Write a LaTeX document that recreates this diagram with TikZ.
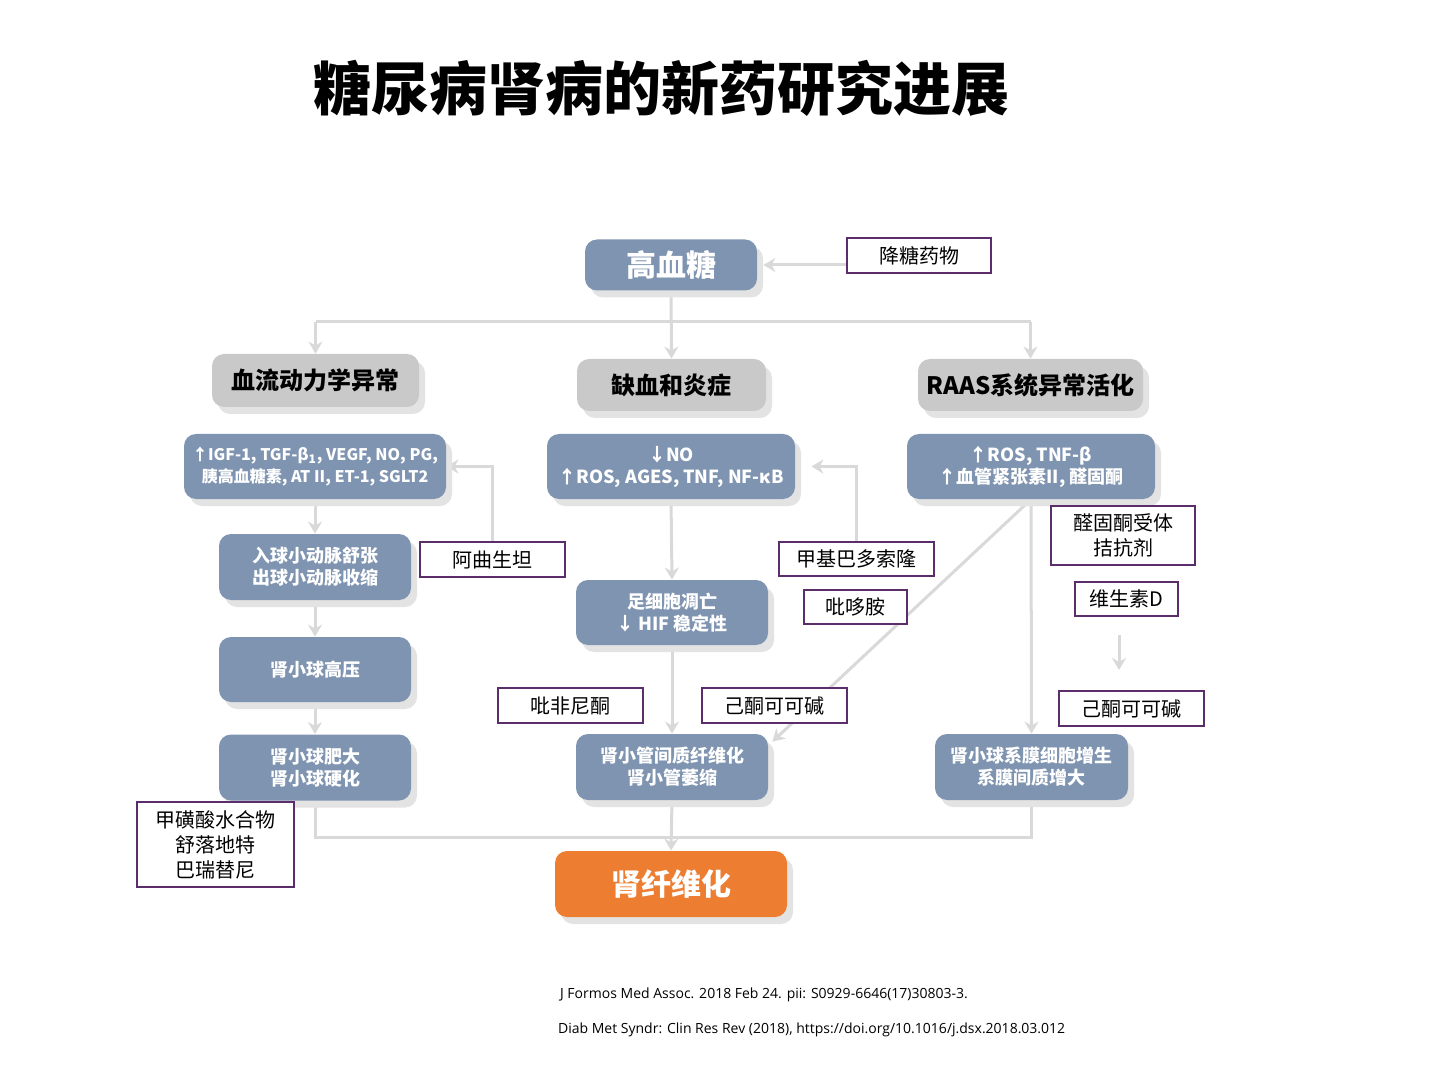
\documentclass[tikz,border=0pt]{standalone}
\usepackage{fontspec}
\setmainfont{Noto Sans CJK SC}
\newfontfamily\reffont{Open Sans}
\usetikzlibrary{shadows,arrows.meta,calc,backgrounds}
\definecolor{bluebox}{HTML}{7F94B0}
\definecolor{graybox}{HTML}{C9C9C9}
\definecolor{orangebox}{HTML}{ED7D31}
\definecolor{connc}{HTML}{D9D9D9}
\definecolor{shadowc}{HTML}{E3E3E3}
\definecolor{drugc}{HTML}{5B2D6B}
\tikzset{
  shad/.style={drop shadow={shadow xshift=3pt, shadow yshift=-3.5pt, fill=shadowc, opacity=1}},
  bluenode/.style={shad, fill=bluebox, rounded corners=6pt, inner sep=0pt, text=white, font=\bfseries\fontsize{9}{11}\selectfont, align=center},
  headnode/.style={shad, fill=graybox, rounded corners=6pt, inner sep=0pt, text=black, font=\bfseries\fontsize{12}{14}\selectfont, align=center},
  drugnode/.style={draw=drugc, line width=0.6pt, fill=white, inner sep=0pt, text=black, font=\fontsize{10}{12.5}\selectfont, align=center},
  conn/.style={draw=connc, line width=1.5pt, -{Stealth[length=6pt,width=7pt]}},
  connplain/.style={draw=connc, line width=1.5pt},
}
\begin{document}
\begin{tikzpicture}[x=0.5pt,y=-0.5pt]
\begin{pgfonlayer}{background}
\path[use as bounding box, fill=white] (0,0) rectangle (1440,1080);
\end{pgfonlayer}

\node[font=\bfseries\fontsize{29}{32}\selectfont] (title) at (661,88) {糖尿病肾病的新药研究进展};

% top
\node[bluenode, minimum width=86pt, minimum height=25.5pt, font=\bfseries\fontsize{15}{17}\selectfont] (hg) at (671,265) {高血糖};
\node[drugnode, minimum width=72pt, minimum height=17.5pt] (jt) at (919,255.5) {降糖药物};

% headers
\node[headnode, minimum width=103.5pt, minimum height=26.5pt] (h1) at (315.5,380.5) {血流动力学异常};
\node[headnode, minimum width=94.5pt, minimum height=26pt] (h2) at (671.5,385) {缺血和炎症};
\node[headnode, minimum width=112.5pt, minimum height=26pt] (h3) at (1030.5,385) {RAAS系统异常活化};

% row 1
\node[bluenode, minimum width=131pt, minimum height=32.5pt, font=\bfseries\fontsize{8}{11}\selectfont] (L1) at (315,466.5) {↑IGF-1, TGF-β\textsubscript{1}, VEGF, NO, PG,\\胰高血糖素, AT II, ET-1, SGLT2};
\node[bluenode, minimum width=124pt, minimum height=32.5pt] (M1) at (671,466.5) {↓NO\\↑ROS, AGES, TNF, NF-κB};
\node[bluenode, minimum width=124pt, minimum height=32.5pt] (R1) at (1031,466.5) {↑ROS, TNF-β\\↑血管紧张素II, 醛固酮};

% left column
\node[bluenode, minimum width=96pt, minimum height=33pt] (L2) at (315,567) {入球小动脉舒张\\出球小动脉收缩};
\node[bluenode, minimum width=96pt, minimum height=32.5pt] (L3) at (315,669.5) {肾小球高压};
\node[bluenode, minimum width=96pt, minimum height=33pt] (L4) at (315,767.5) {肾小球肥大\\肾小球硬化};

% middle column
\node[bluenode, minimum width=96pt, minimum height=32.5pt] (M2) at (672,612.5) {足细胞凋亡\\↓ HIF 稳定性};
\node[bluenode, minimum width=96pt, minimum height=33pt] (M3) at (672,767) {肾小管间质纤维化\\肾小管萎缩};

% right column
\node[bluenode, minimum width=96.5pt, minimum height=33pt] (R3) at (1031.5,767) {肾小球系膜细胞增生\\系膜间质增大};

% final
\node[shad, fill=orangebox, rounded corners=6pt, inner sep=0pt, text=white, font=\bfseries\fontsize{15}{17}\selectfont, minimum width=116pt, minimum height=33pt] (fib) at (671,884) {肾纤维化};

% drugs
\node[drugnode, minimum width=72.5pt, minimum height=17.5pt] (aqs) at (492.5,559.5) {阿曲生坦};
\node[drugnode, minimum width=77.5pt, minimum height=17pt] (jjb) at (856.5,559) {甲基巴多索隆};
\node[drugnode, minimum width=51.5pt, minimum height=17pt] (bdh) at (855.5,607) {吡哆胺};
\node[drugnode, minimum width=72.5pt, minimum height=17.5pt] (bfn) at (570.5,705.5) {吡非尼酮};
\node[drugnode, minimum width=72.5pt, minimum height=17.5pt] (jtm) at (774.5,705.5) {己酮可可碱};
\node[drugnode, minimum width=72pt, minimum height=29.5pt] (qgt) at (1123,535.5) {醛固酮受体\\拮抗剂};
\node[drugnode, minimum width=51.5pt, minimum height=17pt] (vd) at (1126.5,599) {维生素D};
\node[drugnode, minimum width=72.5pt, minimum height=17.5pt] (jtr) at (1131.5,708.5) {己酮可可碱};
\node[drugnode, minimum width=78.5pt, minimum height=42.5pt] (jhs) at (215.5,844.5) {甲磺酸水合物\\舒落地特\\巴瑞替尼};

% references
\node[font=\reffont\fontsize{7}{8}\selectfont, anchor=west] (ref1) at (553,995) {J Formos Med Assoc. 2018 Feb 24. pii: S0929-6646(17)30803-3.};
\node[font=\reffont\fontsize{7}{8}\selectfont, anchor=west] (ref2) at (551,1030) {Diab Met Syndr: Clin Res Rev (2018), https://doi.org/10.1016/j.dsx.2018.03.012};

% connectors (behind the boxes)
\coordinate (bar) at (671,322);
\coordinate (bot) at (671,837);
\coordinate (sa1) at (1119,635);
\coordinate (sa2) at (1119,670);
\begin{pgfonlayer}{background}
\draw[conn, shorten >=3pt] (jt.west |- hg.east) -- (hg.east);
\draw[conn] (hg.south) -- (h2.north);
\draw[connplain] (bar -| h1.north) -- (bar -| h3.north);
\draw[conn] (bar -| h1.north) -- (h1.north);
\draw[conn] (bar -| h3.north) -- (h3.north);
\draw[conn] (L1.south) -- (L2.north);
\draw[conn] (L2.south) -- (L3.north);
\draw[conn] (L3.south) -- (L4.north);
\draw[conn] (aqs.north) |- (L1.east);
\draw[conn] (M1.south) -- (M2.north);
\draw[conn] (M2.south) -- (M3.north);
\draw[conn, shorten >=8pt] (jjb.north) |- (M1.east);
\draw[conn] (R1.south) -- ($(M3.north east)+(4,8)$);
\draw[conn] (R1.south) -- (R3.north);
\draw[conn] (sa1) -- (sa2);
\draw[connplain] (L4.south) |- (bot -| R3.south) -- (R3.south);
\draw[conn] (M3.south) -- (fib.north);
\end{pgfonlayer}
\end{tikzpicture}
\end{document}
